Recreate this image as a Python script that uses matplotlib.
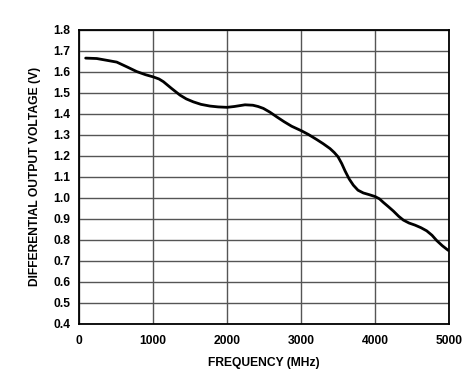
import matplotlib
matplotlib.use("Agg")
import matplotlib.pyplot as plt

# values
freq_mhz = [90, 240, 400, 510, 650, 780, 900, 1000, 1080, 1140, 1250, 1365,
            1450, 1545, 1650, 1770, 1880, 2000, 2100, 2243, 2350, 2420, 2491,
            2580, 2671, 2770, 2874, 3009, 3100, 3212, 3300, 3392, 3450, 3500,
            3550, 3595, 3650, 3707, 3770, 3842, 3920, 4000, 4060, 4113, 4180,
            4248, 4320, 4383, 4460, 4541, 4620, 4698, 4770, 4833, 4910, 4990]
vout = [1.664, 1.662, 1.652, 1.645, 1.622, 1.60, 1.585, 1.575, 1.565, 1.552,
        1.52, 1.488, 1.47, 1.456, 1.444, 1.436, 1.432, 1.430, 1.434, 1.442,
        1.440, 1.434, 1.425, 1.407, 1.385, 1.362, 1.34, 1.318, 1.301, 1.277,
        1.257, 1.234, 1.215, 1.195, 1.163, 1.128, 1.09, 1.06, 1.036, 1.023,
        1.015, 1.006, 0.995, 0.978, 0.958, 0.937, 0.912, 0.894, 0.88, 0.87,
        0.858, 0.843, 0.822, 0.797, 0.772, 0.75]

x_ticks = [0, 1000, 2000, 3000, 4000, 5000]
y_ticks = [0.4, 0.5, 0.6, 0.7, 0.8, 0.9, 1.0, 1.1, 1.2, 1.3, 1.4, 1.5, 1.6, 1.7, 1.8]

plt.rcParams['font.family'] = ['Liberation Sans', 'DejaVu Sans']
plt.rcParams['font.weight'] = 'bold'

fig = plt.figure(figsize=(4.73, 3.8), dpi=100)
ax = fig.add_axes([79 / 473, 1 - 324 / 380, 370 / 473, 294.5 / 380])

ax.plot(freq_mhz, vout, color='black', lw=2.0, solid_capstyle='round',
        solid_joinstyle='round', zorder=3)

ax.set_xlim(0, 5000)
ax.set_ylim(0.4, 1.8)
ax.set_xticks(x_ticks)
ax.set_yticks(y_ticks)
ax.set_xticklabels([str(t) for t in x_ticks], fontsize=8.7, fontweight='bold')
ax.set_yticklabels([f"{t:.1f}" for t in y_ticks], fontsize=8.7, fontweight='bold')
ax.tick_params(length=0, pad=6)
ax.tick_params(axis='x', pad=8)
ax.grid(True, color='#555555', lw=1.0)
ax.set_axisbelow(True)
for s in ax.spines.values():
    s.set_color('black')
    s.set_linewidth(1.3)

ax.set_xlabel('FREQUENCY (MHz)', fontsize=8.7, fontweight='bold', labelpad=7)
ax.set_ylabel('DIFFERENTIAL OUTPUT VOLTAGE (V)', fontsize=8.7, fontweight='bold',
              labelpad=9)

fig.savefig('out.png', dpi=100)
